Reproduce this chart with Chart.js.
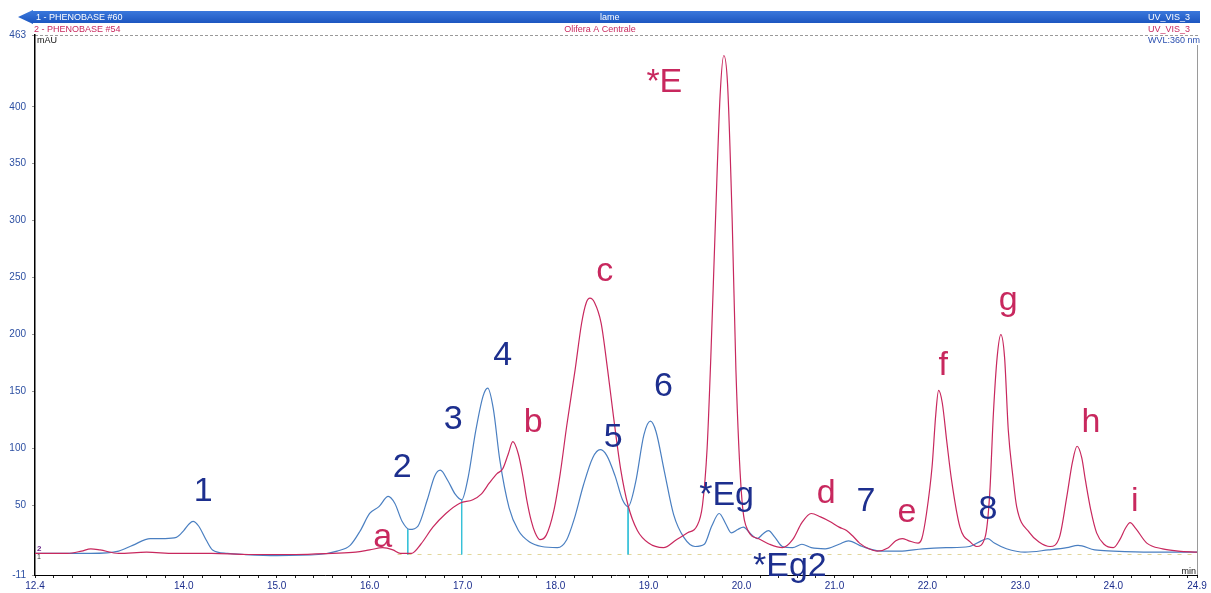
<!DOCTYPE html>
<html>
<head>
<meta charset="utf-8">
<title>Chromatogram</title>
<script src="https://cdn.jsdelivr.net/npm/chart.js"></script>
<style>
  html, body { margin: 0; padding: 0; background: #fff; }
  #wrap { width: 1211px; height: 593px; position: relative; }
</style>
</head>
<body>
<div id="wrap"><canvas id="chromChart"></canvas></div>
<script>
// ---- data (retention time in min, signal in mAU) ----
const trace1Time = [12.4, 12.7, 13.0, 13.3, 13.45, 13.64, 13.8, 13.92, 14.0, 14.06, 14.1, 14.16, 14.24, 14.31, 14.47, 14.65, 15.0, 15.45, 15.65, 15.79, 15.9, 16.0, 16.1, 16.2, 16.27, 16.35, 16.43, 16.52, 16.62, 16.7, 16.76, 16.84, 16.92, 16.99, 17.06, 17.14, 17.22, 17.27, 17.33, 17.4, 17.5, 17.6, 17.72, 17.85, 18.02, 18.12, 18.2, 18.3, 18.4, 18.48, 18.55, 18.64, 18.72, 18.78, 18.86, 18.95, 19.02, 19.08, 19.17, 19.27, 19.38, 19.5, 19.6, 19.68, 19.76, 19.83, 19.89, 19.96, 20.02, 20.1, 20.17, 20.23, 20.29, 20.36, 20.44, 20.55, 20.65, 20.75, 20.9, 21.05, 21.15, 21.3, 21.5, 21.7, 21.95, 22.2, 22.45, 22.58, 22.65, 22.72, 22.85, 23.05, 23.3, 23.5, 23.62, 23.8, 24.0, 24.4, 24.9];
const trace1mAU  = [8, 8, 8, 10, 15, 21, 21, 22, 28, 34, 36, 32, 20, 11, 8, 7, 6, 7, 10, 15, 28, 43, 49, 58, 52, 36, 29, 32, 55, 76, 81, 72, 60, 55, 75, 115, 146, 153, 135, 90, 48, 28, 18, 14, 13, 20, 38, 68, 92, 99, 94, 76, 55, 49, 70, 112, 124, 115, 80, 42, 22, 14, 16, 32, 43, 34, 26, 29, 31, 25, 21, 25, 28, 22, 14, 13, 16, 13, 12, 16, 19, 14, 10, 10, 12, 13, 14, 19, 21, 17, 12, 9, 11, 13, 15, 11, 10, 9, 9];

const trace2Time = [12.4, 12.75, 12.9, 13.0, 13.1, 13.3, 13.6, 13.9, 14.3, 14.7, 15.2, 15.6, 15.85, 16.0, 16.14, 16.25, 16.33, 16.45, 16.55, 16.68, 16.82, 16.97, 17.11, 17.2, 17.29, 17.37, 17.43, 17.49, 17.54, 17.6, 17.65, 17.69, 17.74, 17.78, 17.83, 17.9, 17.98, 18.05, 18.12, 18.21, 18.28, 18.33, 18.37, 18.42, 18.49, 18.56, 18.62, 18.7, 18.78, 18.88, 19.0, 19.16, 19.3, 19.42, 19.52, 19.58, 19.63, 19.67, 19.72, 19.77, 19.81, 19.85, 19.9, 19.94, 20.0, 20.07, 20.18, 20.3, 20.44, 20.55, 20.65, 20.75, 20.85, 20.95, 21.05, 21.13, 21.2, 21.27, 21.37, 21.46, 21.58, 21.66, 21.73, 21.8, 21.9, 21.94, 21.99, 22.05, 22.09, 22.12, 22.16, 22.21, 22.26, 22.35, 22.46, 22.53, 22.62, 22.67, 22.71, 22.75, 22.79, 22.83, 22.87, 22.92, 22.96, 23.1, 23.2, 23.32, 23.42, 23.5, 23.56, 23.61, 23.66, 23.7, 23.76, 23.82, 23.9, 24.0, 24.07, 24.13, 24.18, 24.24, 24.36, 24.53, 24.7, 24.9];
const trace2mAU  = [8, 8, 10, 12, 11, 8, 9, 8, 8, 7, 7, 8, 9, 11, 13, 11, 8, 8, 16, 31, 43, 52, 55, 60, 70, 78, 82, 95, 106, 95, 75, 55, 36, 26, 20, 24, 45, 78, 120, 169, 210, 228, 232, 228, 210, 169, 130, 82, 50, 28, 17, 13, 20, 26, 32, 50, 100, 180, 300, 410, 445, 420, 300, 169, 60, 28, 21, 16, 13, 20, 35, 43, 40, 36, 31, 28, 23, 17, 12, 10, 13, 19, 21, 19, 17, 21, 43, 84, 130, 151, 140, 105, 72, 31, 18, 14, 22, 60, 131, 180, 200, 180, 116, 75, 49, 26, 18, 14, 22, 58, 88, 102, 92, 72, 45, 26, 16, 13, 20, 30, 35, 30, 17, 12, 10, 9];

// integration drop lines of trace 1 (time, top value)
const dropTime = [16.41, 16.99, 18.78];
const dropTop  = [29, 55, 49];

// peak labels
const labels1     = ['1', '2', '3', '4', '5', '6', '*Eg', '*Eg2', '7', '8'];
const labels1Time = [14.21, 16.35, 16.90, 17.43, 18.62, 19.16, 19.84, 20.52, 21.34, 22.65];
const labels1mAU  = [62, 83, 125, 182, 110, 154, 59, -4, 53, 46];
const labels2     = ['a', 'b', 'c', '*E', 'd', 'e', 'f', 'g', 'h', 'i'];
const labels2Time = [16.14, 17.76, 18.53, 19.17, 20.91, 21.78, 22.17, 22.87, 23.76, 24.23];
const labels2mAU  = [22, 123, 255, 421, 60, 44, 173, 230, 123, 53];

// axes
const xMin = 12.4, xMax = 24.9;
const yMin = -11, yMax = 463;
const xTickLabels = [12.4, 14.0, 15.0, 16.0, 17.0, 18.0, 19.0, 20.0, 21.0, 22.0, 23.0, 24.0, 24.9];
const yTickLabels = [-11, 50, 100, 150, 200, 250, 300, 350, 400, 463];

const BLUE = '#4a7fc1';
const RED = '#c8285e';
const NAVY = '#1d2f8e';
const FONT = '"Liberation Sans", Arial, sans-serif';

function toPoints(ts, vs) {
    return ts.map((t, i) => ({ x: t, y: vs[i] }));
}

function dropPoints() {
    const pts = [];
    dropTime.forEach((t, i) => {
        pts.push({ x: t, y: dropTop[i] });
        pts.push({ x: t, y: 7 });
        pts.push({ x: t, y: null });
    });
    return pts;
}

// header / frame / peak labels
const decorPlugin = {
    id: 'decor',
    beforeDraw(chart) {
        const c = chart.ctx;
        const a = chart.chartArea;
        c.save();
        c.fillStyle = '#fff';
        c.fillRect(0, 0, chart.width, chart.height);

        // blue header bar with arrow
        const grad = c.createLinearGradient(0, 11, 0, 23);
        grad.addColorStop(0, '#3a78dc');
        grad.addColorStop(1, '#1c56c0');
        c.fillStyle = grad;
        c.fillRect(32, 11, 1168, 12);
        c.beginPath();
        c.moveTo(18, 17);
        c.lineTo(33, 10);
        c.lineTo(33, 24);
        c.closePath();
        c.fill();

        c.font = '9px ' + FONT;
        c.textBaseline = 'middle';
        c.fillStyle = '#fff';
        c.textAlign = 'left';
        c.fillText('1 - PHENOBASE #60', 36, 17.5);
        c.fillText('lame', 600, 17.5);
        c.textAlign = 'right';
        c.fillText('UV_VIS_3', 1190, 17.5);

        c.fillStyle = RED;
        c.textAlign = 'left';
        c.fillText('2 - PHENOBASE #54', 34, 29.5);
        c.textAlign = 'center';
        c.fillText('Olifera A Centrale', 600, 29.5);
        c.textAlign = 'right';
        c.fillText('UV_VIS_3', 1190, 29.5);

        // dashed separator under header
        c.strokeStyle = '#9a9a9a';
        c.lineWidth = 1;
        c.setLineDash([3, 2]);
        c.beginPath();
        c.moveTo(a.left, 35.5);
        c.lineTo(1200, 35.5);
        c.stroke();
        c.setLineDash([]);

        c.fillStyle = '#2a4fb0';
        c.textAlign = 'right';
        c.fillText('WVL:360 nm', 1200, 41);

        c.fillStyle = '#111';
        c.textAlign = 'left';
        c.fillText('mAU', a.left + 2, 41);
        c.textAlign = 'right';
        c.fillText('min', 1196, 572);

        // right frame line
        c.strokeStyle = '#9a9a9a';
        c.beginPath();
        c.moveTo(a.right + 0.5, 45);
        c.lineTo(a.right + 0.5, a.bottom);
        c.stroke();

        // trace numbers at left
        c.font = 'bold 8px ' + FONT;
        c.textAlign = 'left';
        c.fillStyle = '#6a2a8a';
        c.fillText('2', a.left + 2, 549);
        c.font = '7px ' + FONT;
        c.fillStyle = '#333';
        c.fillText('1', a.left + 2, 557);
        c.restore();
    },
    afterDatasetsDraw(chart) {
        const c = chart.ctx;
        const xs = chart.scales.x, ys = chart.scales.y;
        c.save();
        c.font = '34px ' + FONT;
        c.textAlign = 'center';
        c.textBaseline = 'middle';
        c.fillStyle = NAVY;
        labels1.forEach((s, i) => {
            c.fillText(s, xs.getPixelForValue(labels1Time[i]), ys.getPixelForValue(labels1mAU[i]));
        });
        c.fillStyle = RED;
        labels2.forEach((s, i) => {
            c.fillText(s, xs.getPixelForValue(labels2Time[i]), ys.getPixelForValue(labels2mAU[i]));
        });
        c.restore();
    }
};

const ctx = document.getElementById('chromChart').getContext('2d');
new Chart(ctx, {
    type: 'line',
    data: {
        datasets: [{
            label: '2 - PHENOBASE #54',
            data: toPoints(trace2Time, trace2mAU),
            borderColor: RED,
            borderWidth: 1.2,
            pointRadius: 0,
            cubicInterpolationMode: 'monotone',
            order: 1
        }, {
            label: '1 - PHENOBASE #60',
            data: toPoints(trace1Time, trace1mAU),
            borderColor: BLUE,
            borderWidth: 1.2,
            pointRadius: 0,
            cubicInterpolationMode: 'monotone',
            order: 2
        }, {
            label: 'drops',
            data: dropPoints(),
            borderColor: '#36c0d8',
            borderWidth: 1,
            pointRadius: 0,
            spanGaps: false,
            order: 3
        }, {
            label: 'baseline',
            data: [{ x: 16.3, y: 7 }, { x: xMax, y: 7 }],
            borderColor: '#e2d79a',
            borderWidth: 1,
            borderDash: [4, 6],
            pointRadius: 0,
            order: 4
        }]
    },
    options: {
        responsive: true,
        maintainAspectRatio: false,
        animation: false,
        layout: { padding: { top: 35, right: 14, left: 0, bottom: 0 } },
        plugins: {
            legend: { display: false },
            tooltip: { enabled: false }
        },
        scales: {
            x: {
                type: 'linear',
                min: xMin,
                max: xMax,
                afterFit(scale) { scale.height = 18; },
                afterBuildTicks(scale) {
                    const ticks = [];
                    for (let k = 0; k <= 62; k++) ticks.push({ value: +(xMin + k * 0.2).toFixed(1) });
                    ticks.push({ value: xMax });
                    scale.ticks = ticks;
                },
                ticks: {
                    autoSkip: false,
                    maxRotation: 0,
                    padding: 2,
                    color: NAVY,
                    font: { family: FONT, size: 10 },
                    callback(v) {
                        return xTickLabels.some(l => Math.abs(l - v) < 1e-6) ? v.toFixed(1) : '';
                    }
                },
                grid: { drawOnChartArea: false, tickLength: 3, color: '#222' },
                border: { color: '#000', width: 1 }
            },
            y: {
                min: yMin,
                max: yMax,
                afterFit(scale) { scale.width = 35; },
                afterBuildTicks(scale) {
                    scale.ticks = yTickLabels.map(v => ({ value: v }));
                },
                ticks: {
                    padding: 6,
                    color: '#2c4fa2',
                    font: { family: FONT, size: 10 }
                },
                grid: { drawOnChartArea: false, tickLength: 3, color: '#999' },
                border: { color: '#000', width: 1.5 }
            }
        }
    },
    plugins: [decorPlugin]
});
</script>
</body>
</html>
